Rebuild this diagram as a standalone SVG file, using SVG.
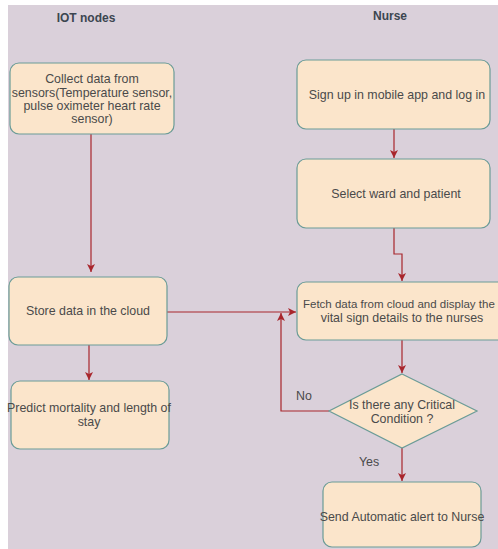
<svg xmlns="http://www.w3.org/2000/svg" width="498" height="549" viewBox="0 0 498 549">
<defs>
<style>
.n{fill:#fbe5cb;stroke:#6b9c97;stroke-width:1.2}
.t{font-family:"Liberation Sans",Arial,sans-serif;font-size:12.4px;fill:#4a4a4a;text-anchor:middle}
.h{font-family:"Liberation Sans",Arial,sans-serif;font-size:12px;font-weight:bold;fill:#3c4650;text-anchor:middle}
.c{fill:none;stroke:#a8262c;stroke-width:1.2}
</style>
<marker id="a" markerWidth="10" markerHeight="10" refX="8" refY="5" orient="auto" markerUnits="userSpaceOnUse">
<path d="M0,1 L8,5 L0,9 L2,5 Z" fill="#a8262c"/>
</marker>
</defs>
<rect width="498" height="549" fill="#ffffff"/>
<rect x="8" y="5" width="490" height="544" fill="#dad0da"/>
<text class="h" x="86" y="22">IOT nodes</text>
<text class="h" x="390" y="20">Nurse</text>
<g id="connectors">
<path class="c" d="M91,134 V272" marker-end="url(#a)"/>
<path class="c" d="M89,345 V380" marker-end="url(#a)"/>
<path class="c" d="M394,129 V158" marker-end="url(#a)"/>
<path class="c" d="M394,228 V254 H402 V281" marker-end="url(#a)"/>
<path class="c" d="M167,312 H296" marker-end="url(#a)"/>
<path class="c" d="M402,340 V373" marker-end="url(#a)"/>
<path class="c" d="M329,411 H281 V313" marker-end="url(#a)"/>
<path class="c" d="M402,448 V481" marker-end="url(#a)"/>
<text class="t" x="304" y="400">No</text>
<text class="t" x="369" y="466">Yes</text>
</g>
<g id="collect">
<rect class="n" x="10" y="63" width="164" height="71" rx="9"/>
<text class="t" x="92" y="83">Collect data from</text>
<text class="t" x="92" y="97">sensors(Temperature sensor,</text>
<text class="t" x="92" y="110">pulse oximeter heart rate</text>
<text class="t" x="92" y="123">sensor)</text>
</g>
<g id="store">
<rect class="n" x="9" y="277" width="158" height="68" rx="9"/>
<text class="t" x="88" y="315">Store data in the cloud</text>
</g>
<g id="predict">
<rect class="n" x="11" y="381" width="158" height="68" rx="9"/>
<text class="t" x="89" y="412">Predict mortality and length of</text>
<text class="t" x="89" y="426">stay</text>
</g>
<g id="signup">
<rect class="n" x="297" y="60" width="193" height="69" rx="9"/>
<text class="t" x="397" y="99">Sign up in mobile app and log in</text>
</g>
<g id="select">
<rect class="n" x="297" y="159" width="193" height="69" rx="9"/>
<text class="t" x="396" y="198">Select ward and patient</text>
</g>
<g id="fetch">
<rect class="n" x="297" y="282" width="210" height="58" rx="9"/>
<text class="t" x="303" y="308" style="text-anchor:start;font-size:11.5px">Fetch data from cloud and display the</text>
<text class="t" x="402" y="322">vital sign details to the nurses</text>
</g>
<g id="decision">
<path class="n" d="M402,374 L477,411 L402,448 L329,411 Z"/>
<text class="t" x="402" y="409">Is there any Critical</text>
<text class="t" x="402" y="423">Condition ?</text>
</g>
<g id="send">
<rect class="n" x="323" y="482" width="158" height="65" rx="9"/>
<text class="t" x="402" y="521">Send Automatic alert to Nurse</text>
</g>
</svg>
